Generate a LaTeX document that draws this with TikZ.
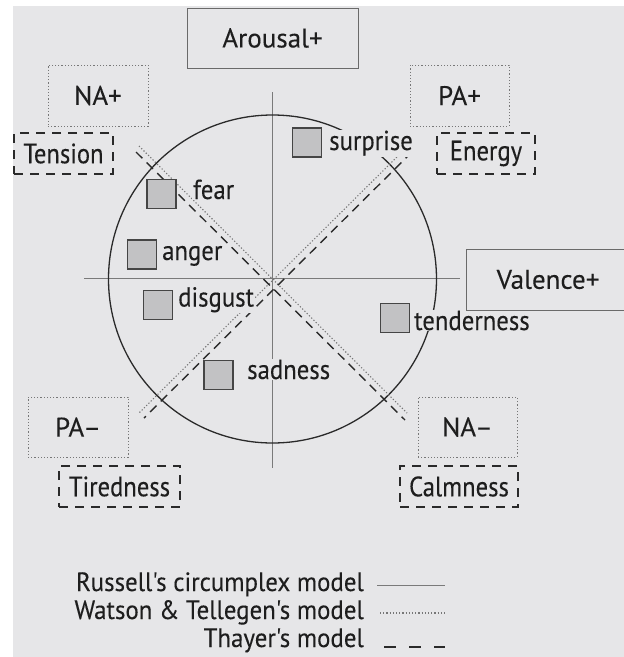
\documentclass[tikz,border=0pt]{standalone}
\usepackage{fontspec}
\setmainfont{PT Sans}
\newfontfamily\fbig[FakeStretch=1.0,FakeBold=0.15]{PT Sans}
\newfontfamily\fdash[FakeStretch=0.88,FakeBold=0.15]{PT Sans}
\newfontfamily\femo[FakeStretch=0.9,FakeBold=0.15]{PT Sans}
\newfontfamily\fleg[FakeStretch=0.94,FakeBold=0.15]{PT Sans}
\definecolor{bg}{HTML}{E6E6E8}
\definecolor{dark}{HTML}{2A2A2A}
\definecolor{txt}{HTML}{1E1E1E}
\definecolor{axisgray}{HTML}{7A7A7A}
\definecolor{dotgray}{HTML}{777777}
\definecolor{boxgray}{HTML}{6A6A6A}
\definecolor{sqfill}{HTML}{C2C2C4}
\definecolor{sqborder}{HTML}{454545}
\tikzset{
  ax/.style={draw=axisgray, line width=0.9pt},
  circ/.style={draw=dark, line width=1.3pt},
  wt/.style={draw=dotgray, line width=1.1pt, dash pattern=on 1.2pt off 2pt},
  th/.style={draw=dark, line width=1.4pt, dash pattern=on 9pt off 6pt},
  bigtxt/.style={font=\fbig\fontsize{27}{27}\selectfont, text=txt},
  dashtxt/.style={font=\fdash\fontsize{28}{28}\selectfont, text=txt},
  emotxt/.style={font=\femo\fontsize{27.5}{27.5}\selectfont, text=txt},
  solidbox/.style={draw=boxgray, line width=1pt, fill=bg, inner sep=0pt, bigtxt},
  dotbox/.style={draw=dotgray, line width=1pt, dash pattern=on 1.2pt off 2pt, inner sep=0pt, bigtxt},
  dashbox/.style={draw=dark, line width=1.4pt, dash pattern=on 9pt off 7pt, inner sep=0pt, dashtxt},
  sq/.style={draw=sqborder, fill=sqfill, line width=1.3pt, minimum size=29pt, inner sep=0pt},
  lbl/.style={fill=bg, inner sep=1pt, anchor=base west, emotxt},
  legtxt/.style={anchor=base east, inner sep=0pt, font=\fleg\fontsize{26.5}{26.5}\selectfont, text=txt},
}
\begin{document}
\begin{tikzpicture}[x=1pt,y=-1pt]
\useasboundingbox (0,0) rectangle (624,657);
\fill[white] (0,0) rectangle (624,657);
\fill[bg] (13,6) rectangle (624,657);
% centre
\coordinate (O) at (272.5,279);
% axes
\coordinate (axT) at (272.5,92);
\coordinate (axB) at (272.5,468);
\coordinate (axL) at (84,278.5);
\coordinate (axR) at (460,278.5);
\draw[ax] (axT) -- (axB);
\draw[ax] (axL) -- (axR);
% circle
\draw[circ] (O) circle[radius=164];
% Watson & Tellegen (dotted)
\coordinate (wNW) at (139,146);
\coordinate (wSE) at (407,413);
\coordinate (wNE) at (406,148);
\coordinate (wSW) at (139,413);
\draw[wt] (wNW) -- (wSE);
\draw[wt] (wNE) -- (wSW);
% Thayer (dashed)
\coordinate (tNW) at (136,152);
\coordinate (tSE) at (405,420);
\coordinate (tNE) at (412,152);
\coordinate (tSW) at (144,418);
\draw[th] (tNW) -- (tSE);
\draw[th] (tNE) -- (tSW);
% emotion labels
\node[lbl] (lfear) at (192,199) {fear};
\node[lbl] (langer) at (161,260) {anger};
\node[lbl] (ldisgust) at (177,306.5) {disgust};
\node[lbl] (lsurprise) at (328,150) {surprise};
\node[lbl] (ltender) at (413,330) {tenderness};
\node[lbl] (lsad) at (246,379) {sadness};
% squares
\node[sq] (sfear) at (161.5,194) {};
\node[sq] (sanger) at (142,254.5) {};
\node[sq] (sdisgust) at (158,305) {};
\node[sq] (ssurprise) at (307,142.5) {};
\node[sq] (stender) at (395,318) {};
\node[sq] (ssad) at (218.5,375) {};
% boxes
\node[solidbox, minimum width=171pt, minimum height=60pt] (arousal) at (272.5,38) {Arousal+};
\node[solidbox, minimum width=164pt, minimum height=61pt] (valence) at (548,279.5) {Valence+};
\node[dotbox, minimum width=100pt, minimum height=61pt] (nap) at (98,95.5) {NA+};
\node[dotbox, minimum width=99pt, minimum height=61pt] (pap) at (459.5,95.5) {PA+};
\node[dotbox, minimum width=100pt, minimum height=60pt] (pam) at (78,427) {PA\textendash};
\node[dotbox, minimum width=99pt, minimum height=60pt] (nam) at (467.5,427) {NA\textendash};
\node[dashbox, minimum width=99pt, minimum height=41pt] (tension) at (63.5,153.5) {Tension};
\node[dashbox, minimum width=98pt, minimum height=41pt] (energy) at (486,153.5) {Energy};
\node[dashbox, minimum width=121pt, minimum height=41pt] (tired) at (119.5,486.5) {Tiredness};
\node[dashbox, minimum width=118pt, minimum height=41pt] (calm) at (459,486.5) {Calmness};
% legend
\node[legtxt] (leg1) at (364,591) {Russell's circumplex model};
\node[legtxt] (leg2) at (364,619) {Watson \& Tellegen's model};
\node[legtxt] (leg3) at (364,647) {Thayer's model};
\coordinate (r1a) at (377,585);
\coordinate (r1b) at (445,585);
\coordinate (r2a) at (380,613);
\coordinate (r2b) at (445,613);
\coordinate (r3a) at (384,647);
\coordinate (r3b) at (445,647);
\draw[ax] (r1a) -- (r1b);
\draw[wt] (r2a) -- (r2b);
\draw[draw=dark, line width=1.4pt, dash pattern=on 12pt off 13pt] (r3a) -- (r3b);
\end{tikzpicture}
\end{document}
